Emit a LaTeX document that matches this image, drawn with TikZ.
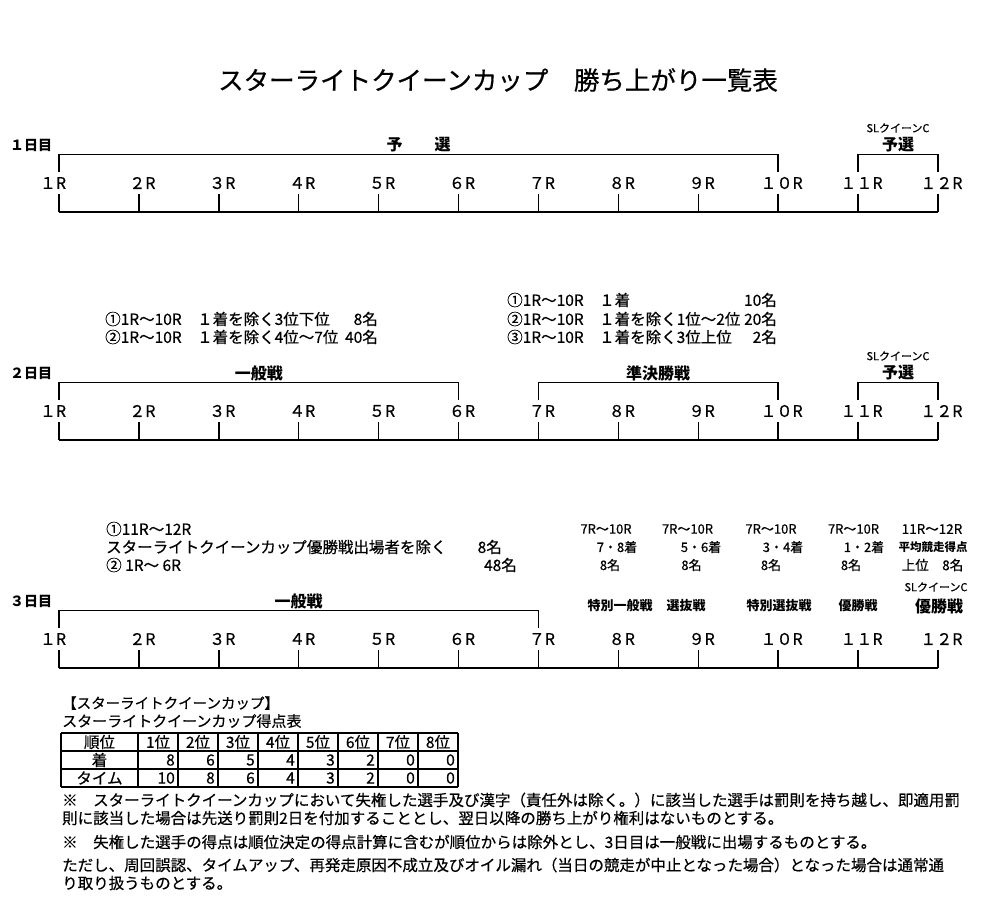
\documentclass[tikz,border=0pt]{standalone}
\usepackage{fontspec}
\setmainfont{Noto Sans CJK JP}[UprightFeatures={FakeBold=0.5}]
\usetikzlibrary{positioning}

\newcommand{\racetxt}[1]{\ifcase#1\or １R\or ２R\or ３R\or ４R\or ５R\or ６R\or ７R\or ８R\or ９R\or １０R\or １１R\or １２R\fi}
\newcommand{\daytxt}[1]{\ifcase#1\or １日目\or ２日目\or ３日目\fi}

\tikzset{
  track/.style={line width=1.4pt},
  tbl/.style={line width=1.3pt},
  racelbl/.style={inner sep=0pt, font=\fontsize{16}{16}\selectfont},
  daylbl/.style={inner sep=0pt, anchor=west, font=\fontsize{14}{14}\selectfont\bfseries},
  stage/.style={inner sep=0pt, font=\fontsize{16}{16}\selectfont\bfseries},
  stagesm/.style={inner sep=0pt, font=\fontsize{13}{13}\selectfont\bfseries},
  slq/.style={inner sep=0pt, font=\fontsize{11}{11}\selectfont},
  info/.style={inner sep=0pt, anchor=west, font=\fontsize{15.5}{15.5}\selectfont},
  infon/.style={info, anchor=east},
  col/.style={inner sep=0pt, font=\fontsize{13}{13}\selectfont},
  cell/.style={inner sep=0pt, font=\fontsize{15.5}{15.5}\selectfont},
  num/.style={cell, anchor=east},
  note/.style={inner sep=0pt, anchor=west, font=\fontsize{15.5}{15.5}\selectfont},
}

\begin{document}
\begin{tikzpicture}[x=1pt, y=-1pt]
    \useasboundingbox[fill=white] (0,0) rectangle (1000,898);

    \node[inner sep=0pt, font=\fontsize{25.5}{25.5}\selectfont] (title) at (498,80) {スターライトクイーンカップ　勝ち上がり一覧表};

    \foreach \dn/\yo in {1/0,2/228,3/456}{
        \node[daylbl] (day\dn) at (10,145+\yo) {\daytxt{\dn}};
        \foreach \r in {1,...,12}{
            \pgfmathsetmacro{\xr}{59+79.9*(\r-1)}
            \pgfmathsetmacro{\lx}{\xr+ifthenelse(\r==1,-6,3.5)}
            \coordinate (top\dn-\r) at (\xr,154.5+\yo);
            \coordinate (drop\dn-\r) at (\xr,172+\yo);
            \coordinate (tick\dn-\r) at (\xr,194+\yo);
            \coordinate (base\dn-\r) at (\xr,212+\yo);
            \node[racelbl] (race\dn-\r) at (\lx,183+\yo) {\racetxt{\r}};
            \draw[track] (tick\dn-\r) -- (base\dn-\r);
        }
        \draw[track] (base\dn-1) -- (base\dn-12);
    }

    \draw[track] (drop1-1) |- (top1-10) -- (drop1-10);
    \draw[track] (drop1-11) |- (top1-12) -- (drop1-12);
    \draw[track] (drop2-1) |- (top2-6) -- (drop2-6);
    \draw[track] (drop2-7) |- (top2-10) -- (drop2-10);
    \draw[track] (drop2-11) |- (top2-12) -- (drop2-12);
    \draw[track] (drop3-1) |- (top3-7) -- (drop3-7);

    \node[stage] (yosen1) at (418.5,145) {予　　選};
    \node[slq] (slq1) at (898,128) {SLクイーンC};
    \node[stage] (slyosen1) at (898,145) {予選};

    \node[info] (d2l1) at (105,319) {①1R～10R　１着を除く3位下位};
    \node[infon] (d2l1n) at (378,319) {8名};
    \node[info] (d2l2) at (105,337) {②1R～10R　１着を除く4位～7位};
    \node[infon] (d2l2n) at (378,337) {40名};
    \node[info] (d2r1) at (507,300) {①1R～10R　１着};
    \node[infon] (d2r1n) at (777,300) {10名};
    \node[info] (d2r2) at (507,319) {②1R～10R　１着を除く1位～2位};
    \node[infon] (d2r2n) at (777,319) {20名};
    \node[info] (d2r3) at (507,337) {③1R～10R　１着を除く3位上位};
    \node[infon] (d2r3n) at (777,337) {2名};
    \node[stage] (ippan2) at (258.8,373) {一般戦};
    \node[stage] (junket2) at (658.2,373) {準決勝戦};
    \node[slq] (slq2) at (898,356) {SLクイーンC};
    \node[stage] (slyosen2) at (898,373) {予選};

    \node[info] (d3l1) at (106,529) {①11R～12R};
    \node[info] (d3l2) at (106,547) {スターライトクイーンカップ優勝戦出場者を除く};
    \node[infon] (d3l2n) at (502,547) {8名};
    \node[info] (d3l3) at (106,565) {②\ 1R～\ 6R};
    \node[infon] (d3l3n) at (517,565) {48名};
    \node[stage] (ippan3) at (298.7,601) {一般戦};

    \node[col] (f8a) at (606,529) {7R～10R};
    \node[col] (f9a) at (687.5,529) {7R～10R};
    \node[col] (f10a) at (771,529) {7R～10R};
    \node[col] (f11a) at (853.5,529) {7R～10R};
    \node[col, font=\fontsize{13.5}{13.5}\selectfont] (f12a) at (932,529) {11R～12R};
    \node[col] (f8b) at (617,547) {7・8着};
    \node[col] (f9b) at (701,547) {5・6着};
    \node[col] (f10b) at (783,547) {3・4着};
    \node[col] (f11b) at (864,547) {1・2着};
    \node[col, font=\fontsize{11.5}{11.5}\selectfont\bfseries] (f12b) at (933,547) {平均競走得点};
    \node[col] (f8c) at (610,565) {8名};
    \node[col] (f9c) at (691.5,565) {8名};
    \node[col] (f10c) at (771,565) {8名};
    \node[col] (f11c) at (851,565) {8名};
    \node[col, font=\fontsize{13.5}{13.5}\selectfont] (f12c) at (932.5,565) {上位　8名};
    \node[slq] (slq3) at (936,587) {SLクイーンC};
    \node[stagesm] (tokuippan) at (620,606) {特別一般戦};
    \node[stagesm] (senbatsu) at (686,606) {選抜戦};
    \node[stagesm] (tokusen) at (779,606) {特別選抜戦};
    \node[stagesm] (yusho) at (858,606) {優勝戦};
    \node[stage] (slyusho) at (939,606) {優勝戦};

    \node[note, font=\fontsize{14.5}{14.5}\selectfont] (cupname) at (62,703) {【スターライトクイーンカップ】};
    \node[note, font=\fontsize{15}{15}\selectfont] (scorettl) at (62,721) {スターライトクイーンカップ得点表};
    \foreach \cx in {61,138,178,218,258,298,338,378,418,458}
        \draw[tbl] (\cx,733) -- (\cx,787);
    \foreach \cy in {733,751,769,787}
        \draw[tbl] (61,\cy) -- (458,\cy);
    \node[cell] (hrank) at (99.5,742) {順位};
    \node[cell] (hchaku) at (99.5,760) {着};
    \node[cell] (htime) at (99.5,778) {タイム};
    \foreach \i/\a/\b in {1/8/10,2/6/8,3/5/6,4/4/4,5/3/3,6/2/2,7/0/0,8/0/0}{
        \node[cell] (pos\i) at (118+40*\i,742) {\i 位};
        \node[num] (chaku\i) at (135+40*\i,760) {\a};
        \node[num] (time\i) at (135+40*\i,778) {\b};
    }

    \node[note] (note1) at (62,800) {※　スターライトクイーンカップにおいて失権した選手及び漢字（責任外は除く。）に該当した選手は罰則を持ち越し、即適用罰};
    \node[note] (note2) at (62,818) {則に該当した場合は先送り罰則2日を付加することとし、翌日以降の勝ち上がり権利はないものとする。};
    \node[note] (note3) at (62,842) {※　失権した選手の得点は順位決定の得点計算に含むが順位からは除外とし、3日目は一般戦に出場するものとする。};
    \node[note] (note4) at (62,865) {ただし、周回誤認、タイムアップ、再発走原因不成立及びオイル漏れ（当日の競走が中止となった場合）となった場合は通常通};
    \node[note] (note5) at (62,883) {り取り扱うものとする。};
\end{tikzpicture}
\end{document}
